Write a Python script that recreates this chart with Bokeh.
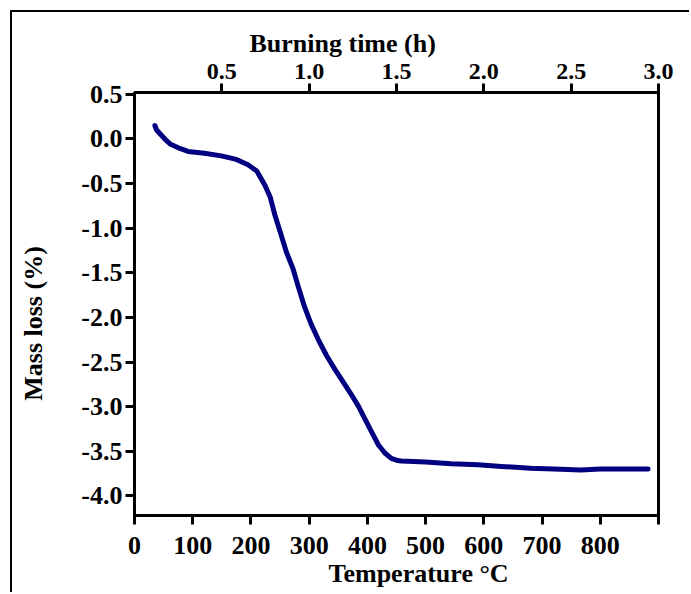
from bokeh.plotting import figure
from bokeh.models import LinearAxis, Range1d, FixedTicker, Title, CustomJSTickFormatter
from bokeh.layouts import column
from bokeh.embed import file_html
from bokeh.resources import INLINE

# ---- data ----
temp_c = [35, 38, 45, 55, 62, 79, 92, 120, 149, 175, 195, 210, 224, 233, 241, 252,
          261, 272, 281, 292, 303, 315, 330, 344, 358, 373, 385, 395, 407, 419, 430,
          441, 450, 458, 500, 544, 590, 630, 680, 720, 767, 800, 840, 882]
mass_loss = [0.15, 0.10, 0.05, -0.02, -0.06, -0.11, -0.14, -0.16, -0.19, -0.23, -0.29,
             -0.36, -0.52, -0.65, -0.85, -1.08, -1.27, -1.45, -1.65, -1.88, -2.07, -2.24,
             -2.43, -2.58, -2.72, -2.87, -3.00, -3.13, -3.28, -3.43, -3.52, -3.58, -3.60,
             -3.61, -3.62, -3.64, -3.65, -3.67, -3.69, -3.70, -3.71, -3.70, -3.70, -3.70]
temp_ticks = [0, 100, 200, 300, 400, 500, 600, 700, 800, 900]
mass_ticks = [0.5, 0.0, -0.5, -1.0, -1.5, -2.0, -2.5, -3.0, -3.5, -4.0]
time_ticks = [0.5, 1.0, 1.5, 2.0, 2.5, 3.0]
x_title = "Temperature \u00b0C"
y_title = "Mass loss (%)"
top_title = "Burning time (h)"

FONT = "Liberation Serif"

p = figure(width=677, height=580, x_range=Range1d(0, 900), y_range=Range1d(-4.22, 0.52),
           output_backend="svg", toolbar_location=None, x_axis_location=None,
           y_axis_location=None,
           min_border_left=122, min_border_right=31, min_border_top=80, min_border_bottom=77)
p.xgrid.visible = False
p.ygrid.visible = False
p.outline_line_color = "black"
p.outline_line_width = 3
p.outline_line_alpha = 1.0

p.extra_x_ranges = {"time": Range1d(0, 3)}
top = LinearAxis(x_range_name="time", ticker=FixedTicker(ticks=time_ticks),
                 formatter=CustomJSTickFormatter(code="return tick.toFixed(1);"))
bottom = LinearAxis(ticker=FixedTicker(ticks=temp_ticks),
                    formatter=CustomJSTickFormatter(code="return tick >= 900 ? '' : tick.toFixed(0);"))
left = LinearAxis(ticker=FixedTicker(ticks=mass_ticks),
                  formatter=CustomJSTickFormatter(code="return tick.toFixed(1);"),
                  axis_label=y_title + "\u00a0" * 6, axis_label_standoff=30)
p.add_layout(top, "above")
p.add_layout(bottom, "below")
p.add_layout(left, "left")

for ax in [top, bottom, left]:
    ax.axis_line_width = 3
    ax.axis_line_color = "black"
    ax.major_tick_line_width = 3
    ax.major_tick_line_color = "black"
    ax.major_tick_in = 0
    ax.major_tick_out = 9
    ax.minor_tick_line_color = None
    ax.major_label_text_font = FONT
    ax.major_label_text_font_style = "bold"
    ax.major_label_text_font_size = "26px"
    ax.major_label_text_color = "black"
    ax.major_label_standoff = 3
    ax.axis_label_text_font = FONT
    ax.axis_label_text_font_style = "bold"
    ax.axis_label_text_font_size = "26px"
    ax.axis_label_text_color = "black"
top.major_label_standoff = 5
top.major_label_text_font_size = "24px"
bottom.major_label_standoff = 12

p.line(temp_c, mass_loss, line_color="#000080", line_width=5,
       line_join="round", line_cap="round")

def title(text, side, offset, standoff):
    t = Title(text=text, align="left", offset=offset, standoff=standoff,
              text_font=FONT, text_font_style="bold", text_font_size="26px",
              text_color="black")
    p.add_layout(t, side)

title(top_title, "above", 115, 6)
title(x_title, "below", 194, 0)

layout = column(p, margin=(10, 0, 0, 10),
                styles={"border-left": "2px solid black", "border-top": "2px solid black"})

open("out.html", "w").write(file_html(layout, INLINE))
